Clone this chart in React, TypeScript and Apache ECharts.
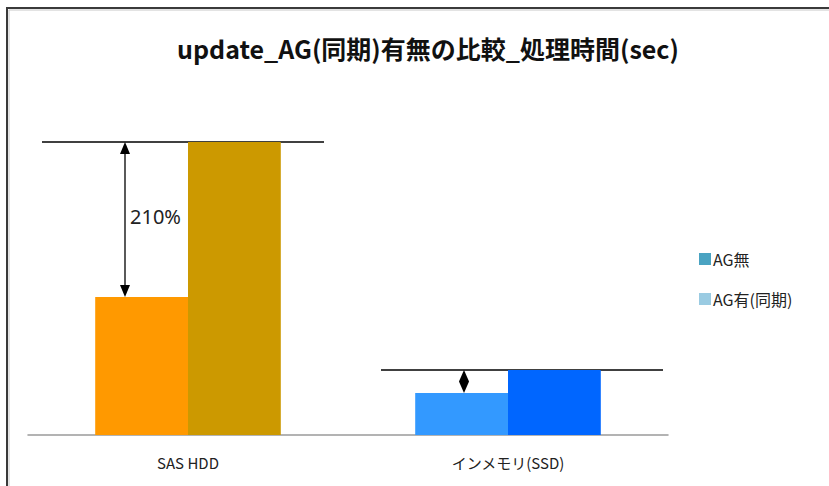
import React, { useEffect, useRef } from "react";
import * as echarts from "echarts";

const titleText = "update_AG(同期)有無の比較_処理時間(sec)";
const categories = ["SAS HDD", "インメモリ(SSD)"];
const seriesNames = ["AG無", "AG有(同期)"];
const agNoneValues = [138, 42];
const agSyncValues = [293, 65];
const agNoneBarColors = ["#FF9900", "#3399FF"];
const agSyncBarColors = ["#CC9900", "#0066FF"];
const legendColors = ["#4AA3C2", "#9ACBE2"];
const ratioLabel = "210%";

// annotation layout (pixel offsets from category centre)
const guideSpan = [
  [-146, 136],
  [-127, 155],
];
const arrowOffset = [-63, -44];

export default function App() {
  const ref = useRef<HTMLDivElement>(null);
  useEffect(() => {
    if (!ref.current) return;
    const chart = echarts.init(ref.current, null, { renderer: "svg" });
    const font = "'Noto Sans CJK JP', 'Noto Sans', sans-serif";
    chart.setOption({
      animation: false,
      backgroundColor: "#ffffff",
      title: {
        text: titleText,
        left: 423,
        top: 30,
        textAlign: "center",
        textStyle: { fontFamily: font, fontSize: 25, fontWeight: "bold", color: "#111" },
      },
      legend: {
        orient: "vertical",
        left: 699,
        top: 251,
        itemWidth: 12,
        itemHeight: 12,
        itemGap: 24,
        padding: 0,
        icon: "rect",
        data: seriesNames,
        textStyle: { fontFamily: font, fontSize: 16, color: "#222", padding: [0, 0, 0, -3] },
      },
      grid: { left: 28, right: 161, top: 135, bottom: 51 },
      xAxis: {
        type: "category",
        data: categories,
        axisLine: { lineStyle: { color: "#9a9a9a", width: 1.5 } },
        axisTick: { show: false },
        axisLabel: { margin: 20, fontFamily: font, fontSize: 15, color: "#222" },
      },
      yAxis: {
        type: "value",
        min: 0,
        max: 300,
        show: false,
        splitLine: { show: false },
      },
      series: [
        {
          name: seriesNames[0],
          type: "bar",
          barGap: "0%",
          barCategoryGap: "42%",
          itemStyle: { color: legendColors[0] },
          data: agNoneValues.map((v, i) => ({ value: v, itemStyle: { color: agNoneBarColors[i] } })),
        },
        {
          name: seriesNames[1],
          type: "bar",
          barGap: "0%",
          barCategoryGap: "42%",
          itemStyle: { color: legendColors[1] },
          data: agSyncValues.map((v, i) => ({ value: v, itemStyle: { color: agSyncBarColors[i] } })),
        },
      ],
    });

    const graphics: any[] = [
      {
        type: "rect",
        shape: { x: 7, y: 8, width: 1000, height: 1000 },
        style: { fill: "none", stroke: "#3a3a3a", lineWidth: 2 },
        silent: true,
      },
      {
        type: "rect",
        shape: { x: 9, y: 10, width: 1000, height: 1000 },
        style: { fill: "none", stroke: "#c8c8c8", lineWidth: 1 },
        silent: true,
      },
    ];

    categories.forEach((c, i) => {
      const top = chart.convertToPixel({ gridIndex: 0 }, [i, agSyncValues[i]]) as number[];
      const low = chart.convertToPixel({ gridIndex: 0 }, [i, agNoneValues[i]]) as number[];
      const cx = top[0];
      const yT = top[1];
      const yL = low[1];
      graphics.push({
        type: "line",
        shape: { x1: cx + guideSpan[i][0], y1: yT, x2: cx + guideSpan[i][1], y2: yT },
        style: { stroke: "#000", lineWidth: 1.3 },
      });
      const ax = cx + arrowOffset[i];
      const span = yL - yT;
      if (span > 30) {
        const h = 12;
        const w = 5;
        graphics.push({
          type: "line",
          shape: { x1: ax, y1: yT + h, x2: ax, y2: yL - h },
          style: { stroke: "#000", lineWidth: 1.3 },
        });
        graphics.push({
          type: "polygon",
          shape: { points: [[ax, yT], [ax - w, yT + h], [ax + w, yT + h]] },
          style: { fill: "#000" },
        });
        graphics.push({
          type: "polygon",
          shape: { points: [[ax, yL], [ax - w, yL - h], [ax + w, yL - h]] },
          style: { fill: "#000" },
        });
        graphics.push({
          type: "text",
          x: ax + 5,
          y: (yT + yL) / 2 - 3,
          style: {
            text: ratioLabel,
            fontFamily: "'Noto Sans', sans-serif",
            fontSize: 20,
            fill: "#222",
            textAlign: "left",
            textVerticalAlign: "middle",
          },
        });
      } else {
        const mid = (yT + yL) / 2;
        graphics.push({
          type: "polygon",
          shape: { points: [[ax, yT], [ax + 5, mid], [ax, yL], [ax - 5, mid]] },
          style: { fill: "#000" },
        });
      }
    });

    chart.setOption({ graphic: graphics });
    return () => chart.dispose();
  }, []);
  return (
    <div
      ref={ref}
      style={{ position: "fixed", left: 0, top: 0, width: 829, height: 486 }}
    />
  );
}
